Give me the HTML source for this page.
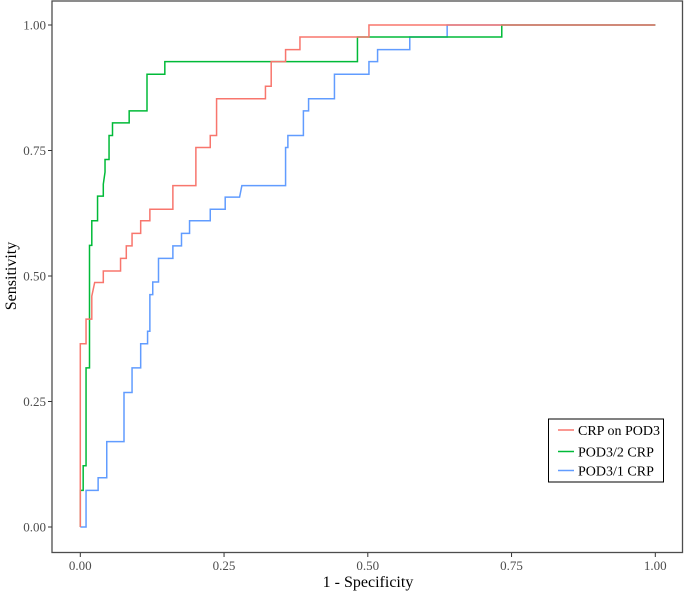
<!DOCTYPE html>
<html><head><meta charset="utf-8"><style>
body{margin:0;background:#fff;}
svg{display:block;font-family:"Liberation Serif",serif;}
</style></head><body>
<svg id="chart" width="685" height="594">
<rect x="52" y="1" width="630.5" height="551.5" fill="#fff" stroke="#4d4d4d" stroke-width="1.3"/>
<g id="axes"></g>
<g id="series"></g>
<text x="368" y="587" font-size="16" text-anchor="middle" fill="#000">1 - Specificity</text>
<text x="16" y="276" font-size="16" text-anchor="middle" fill="#000" transform="rotate(-90 16 276)">Sensitivity</text>
<g>
<rect x="548.5" y="419" width="115" height="63" fill="#fff" stroke="#000" stroke-width="1"/>
<line x1="558" x2="574" y1="430" y2="430" stroke="#F8766D" stroke-width="1.5"/>
<text x="578" y="435" font-size="14">CRP on POD3</text>
<line x1="558" x2="574" y1="451.5" y2="451.5" stroke="#00BA38" stroke-width="1.5"/>
<text x="578" y="456.5" font-size="14">POD3/2 CRP</text>
<line x1="558" x2="574" y1="470.5" y2="470.5" stroke="#619CFF" stroke-width="1.5"/>
<text x="578" y="475.5" font-size="14">POD3/1 CRP</text>
</g>
</svg>
<script>
const ticks = [0, 0.25, 0.5, 0.75, 1];
const tickLabels = ["0.00", "0.25", "0.50", "0.75", "1.00"];
const redFpr = [0,0,0.01,0.01,0.02,0.02,0.025,0.04,0.04,0.07,0.07,0.08,0.08,0.09,0.09,0.105,0.105,0.121,0.121,0.161,0.161,0.201,0.201,0.226,0.226,0.237,0.237,0.322,0.322,0.332,0.332,0.357,0.357,0.382,0.382,0.502,0.502,1];
const redTpr = [0,0.365,0.365,0.414,0.414,0.46,0.487,0.487,0.51,0.51,0.535,0.535,0.56,0.56,0.585,0.585,0.61,0.61,0.633,0.633,0.68,0.68,0.756,0.756,0.78,0.78,0.853,0.853,0.878,0.878,0.927,0.927,0.951,0.951,0.976,0.976,1,1];
const greenFpr = [0,0,0.005,0.005,0.01,0.01,0.016,0.016,0.02,0.02,0.03,0.03,0.04,0.04,0.043,0.043,0.05,0.05,0.056,0.056,0.085,0.085,0.116,0.116,0.147,0.147,0.482,0.482,0.733,0.733,1];
const greenTpr = [0,0.073,0.073,0.122,0.122,0.317,0.317,0.561,0.561,0.61,0.61,0.659,0.659,0.683,0.707,0.732,0.732,0.78,0.78,0.805,0.805,0.829,0.829,0.902,0.902,0.927,0.927,0.976,0.976,1,1];
const blueFpr = [0,0.01,0.01,0.031,0.031,0.046,0.046,0.076,0.076,0.09,0.09,0.105,0.105,0.117,0.117,0.121,0.121,0.126,0.126,0.136,0.136,0.161,0.161,0.176,0.176,0.19,0.19,0.226,0.226,0.252,0.252,0.277,0.281,0.357,0.357,0.361,0.361,0.388,0.388,0.397,0.397,0.442,0.442,0.502,0.502,0.517,0.517,0.573,0.573,0.638,0.638,1];
const blueTpr = [0,0,0.073,0.073,0.098,0.098,0.17,0.17,0.268,0.268,0.317,0.317,0.365,0.365,0.39,0.39,0.463,0.463,0.488,0.488,0.535,0.535,0.56,0.56,0.585,0.585,0.61,0.61,0.633,0.633,0.657,0.657,0.68,0.68,0.756,0.756,0.78,0.78,0.829,0.829,0.853,0.853,0.902,0.902,0.927,0.927,0.951,0.951,0.976,0.976,1,1];

const NS = "http://www.w3.org/2000/svg";
const xs = v => 80.3 + v * 575;
const ys = v => 527 - v * 502;
const axes = document.getElementById("axes");
const series = document.getElementById("series");
ticks.forEach((t, i) => {
  const tx = document.createElementNS(NS, "line");
  tx.setAttribute("x1", xs(t)); tx.setAttribute("x2", xs(t));
  tx.setAttribute("y1", 553); tx.setAttribute("y2", 557);
  tx.setAttribute("stroke", "#333");
  
  
  axes.appendChild(tx);
  const lx = document.createElementNS(NS, "text");
  lx.setAttribute("x", xs(t)); lx.setAttribute("y", 570);
  lx.setAttribute("font-size", "13"); lx.setAttribute("text-anchor", "middle"); lx.setAttribute("fill", "#4d4d4d");
  lx.textContent = tickLabels[i];
  
  
  axes.appendChild(lx);
  const ty = document.createElementNS(NS, "line");
  ty.setAttribute("x1", 48); ty.setAttribute("x2", 52);
  ty.setAttribute("y1", ys(t)); ty.setAttribute("y2", ys(t));
  ty.setAttribute("stroke", "#333");
  
  
  axes.appendChild(ty);
  const ly = document.createElementNS(NS, "text");
  ly.setAttribute("x", 46); ly.setAttribute("y", ys(t) + 4.5);
  ly.setAttribute("font-size", "13"); ly.setAttribute("text-anchor", "end"); ly.setAttribute("fill", "#4d4d4d");
  ly.textContent = tickLabels[i];
  
  
  axes.appendChild(ly);
});
function drawCurve(fpr, tpr, color, name) {
  const p = document.createElementNS(NS, "polyline");
  p.setAttribute("points", fpr.map((f, i) => xs(f) + "," + ys(tpr[i])).join(" "));
  p.setAttribute("fill", "none");
  p.setAttribute("stroke", color);
  p.setAttribute("stroke-width", "1.5");
  
  
  series.appendChild(p);
}
drawCurve(blueFpr, blueTpr, "#619CFF", "roc-curve-pod3-1-crp");
drawCurve(greenFpr, greenTpr, "#00BA38", "roc-curve-pod3-2-crp");
drawCurve(redFpr, redTpr, "#F8766D", "roc-curve-crp-on-pod3");
</script>
</body></html>
